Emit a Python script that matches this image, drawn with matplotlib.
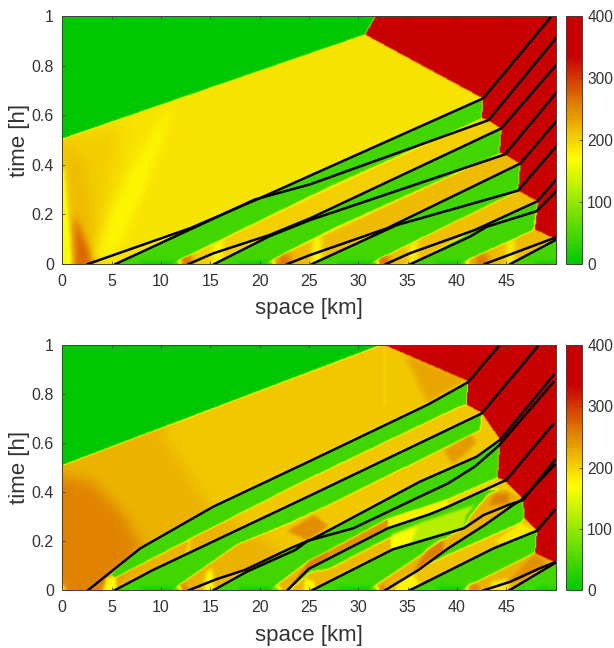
import numpy as np
import matplotlib
matplotlib.use("Agg")
import matplotlib.pyplot as plt
from matplotlib.colors import LinearSegmentedColormap, Normalize
from matplotlib.path import Path

plt.rcParams['font.family'] = ['Liberation Sans', 'DejaVu Sans']

# --- colour scale ---
cmap_vals = [0, 170, 257, 335, 400]
cmap_cols = ["#00c800", "#ffff00", "#e08000", "#c80000", "#c80000"]
vmax = 400

x_ticks = [0, 5, 10, 15, 20, 25, 30, 35, 40, 45]
t_ticks = [0, 0.2, 0.4, 0.6, 0.8, 1]
t_labels = ["0", "0.2", "0.4", "0.6", "0.8", "1"]
cb_ticks = [0, 100, 200, 300, 400]

# --- trajectories, top panel (km, h) ---
top_a = [(2.6, 0), (13, 0.145), (20, 0.265), (25.1, 0.356), (42.66, 0.668), (49.6, 1.0)]
top_b = [(5.4, 0), (13, 0.14), (19.5, 0.26), (25.1, 0.321), (43.2, 0.58), (50, 0.909)]
top_c = [(12.8, 0), (15.3, 0.043), (21, 0.117), (25.1, 0.184), (44.5, 0.547), (50, 0.80)]
top_d = [(15.4, 0), (21, 0.112), (25.1, 0.177), (44.86, 0.442), (50, 0.687)]
top_e = [(22.8, 0), (25.1, 0.036), (32.9, 0.144), (46.4, 0.405), (50, 0.573)]
top_f = [(25.3, 0), (33.9, 0.157), (46.2, 0.296), (50, 0.472)]
top_g = [(32.8, 0), (35.2, 0.043), (41.8, 0.137), (48.15, 0.253), (50, 0.338)]
top_h = [(35.3, 0), (41.3, 0.11), (43, 0.15), (48.06, 0.213), (50, 0.291)]
top_i = [(42.8, 0), (50, 0.107)]
top_j = [(45.4, 0), (50, 0.097)]
top_lines = [top_a, top_b, top_c, top_d, top_e, top_f, top_g, top_h, top_i, top_j]

# --- trajectories, bottom panel ---
bot_a = [(2.6, 0), (7.9, 0.171), (15.3, 0.341), (25.1, 0.527), (37.1, 0.758), (41.1, 0.848), (44.35, 1.0)]
bot_b = [(5.3, 0), (9.2, 0.083), (25.1, 0.386), (42.5, 0.721), (48.3, 1.0)]
bot_c = [(12.8, 0), (15.6, 0.045), (18.5, 0.083), (23.1, 0.171), (24.9, 0.202), (25.3, 0.208),
         (36.24, 0.443), (42, 0.545), (44.35, 0.613), (49.8, 0.878)]
bot_d = [(15.3, 0), (18.7, 0.076), (23.6, 0.164), (24.9, 0.202), (29.5, 0.253), (36.24, 0.382),
         (39.1, 0.436), (41.8, 0.504), (44.25, 0.59), (49.75, 0.848)]
bot_e = [(22.8, 0), (25, 0.088), (33, 0.253), (37.3, 0.311), (39.1, 0.341), (45, 0.45), (49.75, 0.677)]
bot_f = [(25.3, 0), (33.5, 0.167), (37.3, 0.212), (40.7, 0.253), (42.7, 0.307), (45.2, 0.348),
         (46.7, 0.368), (49.9, 0.531)]
bot_g = [(32.7, 0), (36.1, 0.083), (39.1, 0.171), (42.8, 0.266), (45.7, 0.348), (46.5, 0.368), (49.9, 0.511)]
bot_h = [(35.2, 0), (43.7, 0.171), (48.1, 0.243), (49.9, 0.327)]
bot_i = [(42.7, 0), (45.4, 0.035), (48.4, 0.09), (49.9, 0.114)]
bot_j = [(45.3, 0), (49.9, 0.11)]
bot_lines = [bot_a, bot_b, bot_c, bot_d, bot_e, bot_f, bot_g, bot_h, bot_i, bot_j]

# --- density regions: (polygon, density, softness), painted in order ---
free_top = [(0, 0.505), (30.7, 0.926), (31.9, 1.01), (0, 1.01)]
red_top = [(31.9, 1.01), (30.7, 0.926), (42.66, 0.668), (42.5, 0.59), (43.2, 0.58), (44.5, 0.546), (44.3, 0.45),
           (44.86, 0.442), (46.4, 0.405), (46.2, 0.296), (48.2, 0.254), (47.9, 0.14), (50.1, 0.1), (50.1, 1.01)]
top_layers = [
    ([(-1, -1), (51, -1), (51, 1.01), (-1, 1.01)], 190, 0),
    ([(-1, 0.5), (6, 0.56), (3, -0.1), (-1, -0.1)], 205, 9),
    ([(0.4, 0.5), (1.2, 0.1), (2.6, 0.05), (3, 0.2), (2, 0.4)], 218, 6),
    ([(1.2, -0.1), (3.6, -0.1), (2.8, 0.06), (1.2, 0.2)], 272, 3.5),
    ([(3.6, 0.03), (5, 0.22), (7, 0.38), (10.2, 0.6), (11.3, 0.655), (10.4, 0.52), (8.4, 0.3), (6.4, 0.12), (5, 0.02)], 176, 5),
    ([(-1, -0.1), (1.1, -0.1), (0.7, 0.15), (0.25, 0.38), (-1, 0.38)], 165, 2),
    ([(2.6, -0.1), (5.6, -0.1), (10, 0.1)], 180, 2),
    # fan stripes under the platoons
    ([(11, -0.1), (11, 0), (42.5, 0.587), (43.2, 0.58), (44.5, 0.547), (44.3, 0.446), (27.1, 0.137), (20.4, 0), (20.4, -0.1)], 203, 0),
    ([(11.2, -0.1), (14, -0.1), (13, 0.045), (12, 0.04)], 262, 3),
    ([(15, -0.1), (16.4, -0.1), (16, 0.22), (15.6, 0.22)], 168, 3),
    ([(20.4, -0.1), (20.4, 0), (44.3, 0.446), (44.86, 0.442), (46.4, 0.405), (46.2, 0.296), (31, 0), (31, -0.1)], 216, 0),
    ([(21.2, -0.1), (24, -0.1), (23, 0.045), (22, 0.04)], 262, 3),
    ([(25, -0.1), (26.4, -0.1), (26.2, 0.11), (25.5, 0.11)], 168, 3),
    ([(31, -0.1), (31, 0), (46.2, 0.296), (48.2, 0.254), (47.7, 0.137), (40.1, 0), (40.1, -0.1)], 213, 0),
    ([(31.2, -0.1), (34, -0.1), (33, 0.045), (32, 0.04)], 262, 3),
    ([(35, -0.1), (36, -0.1), (35.9, 0.1), (35.3, 0.1)], 168, 3),
    ([(40.1, -0.1), (40.1, 0), (47.7, 0.137), (47.9, 0.14), (50.1, 0.1), (45.2, 0), (45.2, -0.1)], 216, 0),
    ([(41.2, -0.1), (43.8, -0.1), (43, 0.045), (42, 0.04)], 262, 3),
    ([(44.9, -0.1), (45.8, -0.1), (45.7, 0.1), (45.1, 0.1)], 168, 3),
    # platoons
    ([(5.4, -0.1), (5.4, 0), (13, 0.145), (20, 0.265), (25.1, 0.356), (42.66, 0.668), (42.5, 0.587),
      (27.1, 0.312), (11, 0), (11, -0.1)], 45, 0),
    ([(15.4, -0.1), (15.4, 0), (21, 0.117), (25.1, 0.184), (44.5, 0.547), (44.3, 0.446), (27.1, 0.137),
      (20.4, 0), (20.4, -0.1)], 45, 0),
    ([(25.3, -0.1), (25.3, 0), (32.9, 0.144), (46.4, 0.405), (46.2, 0.296), (31, 0), (31, -0.1)], 45, 0),
    ([(35.4, -0.1), (35.4, 0), (41.8, 0.137), (48.15, 0.253), (47.7, 0.137), (40.1, 0), (40.1, -0.1)], 45, 0),
    ([(45.4, -0.1), (45.4, 0), (50.1, 0.1), (51, 0.1), (51, -0.1)], 45, 0),
    # darker green at the initial time
    ([(7, -0.1), (11, -0.1), (12, 0.012), (8, 0.012)], 15, 2),
    ([(17, -0.1), (20.4, -0.1), (21.4, 0.012), (18, 0.012)], 15, 2),
    ([(27, -0.1), (31, -0.1), (32, 0.012), (28, 0.012)], 15, 2),
    ([(37, -0.1), (40.1, -0.1), (41, 0.012), (38, 0.012)], 15, 2),
    ([(47, -0.1), (51, -0.1), (51, 0.012), (48, 0.012)], 15, 2),
    (free_top, 0, 0),
    (red_top, 400, 0),
]

free_bot = [(0, 0.507), (32.5, 1.0), (32.5, 1.01), (0, 1.01)]
red_bot = [(32.5, 1.01), (32.5, 1.0), (41.1, 0.851), (41, 0.755), (42.5, 0.721), (44.35, 0.613), (44.1, 0.457),
           (44.85, 0.446), (46.7, 0.368), (46.8, 0.293), (48.1, 0.243), (47.9, 0.151), (50.1, 0.11), (50.1, 1.01)]
bot_layers = [
    ([(-1, -1), (51, -1), (51, 1.01), (-1, 1.01)], 222, 0),
    ([(15, 0.34), (10, 0.65), (19, 1.01), (33, 1.01), (51, 0.8), (33, -0.1)], 207, 7),
    ([(-1, 0.47), (3, 0.44), (6, 0.32), (8.2, 0.17), (2.6, -0.1), (1.3, -0.1), (-1, 0.1)], 255, 7),
    ([(-1, -0.1), (1.3, -0.1), (-1, 0.13)], 165, 1.5),
    ([(34.6, 0.96), (41.1, 0.855), (37, 0.76), (35.6, 0.88)], 232, 3),
    ([(32.5, 1.0), (32.5, 0.75), (32.75, 0.75), (32.75, 1.0)], 200, 1),
    # stripes left of the junctions
    ([(3.6, -0.1), (5.6, -0.1), (5.5, 0.05), (4.5, 0.05)], 170, 1.5),
    ([(10.9, -0.1), (13, -0.1), (12.6, 0.03), (11.5, 0.02)], 255, 2),
    ([(14, -0.1), (15.6, -0.1), (15.2, 0.09), (14.6, 0.07)], 172, 1.5),
    ([(12.6, 0.12), (13, 0.12), (13, 0.24), (12.7, 0.24)], 198, 1),
    ([(22.8, 0.24), (25.5, 0.305), (27, 0.26), (24.9, 0.2)], 248, 1.5),
    ([(38.6, 0.565), (41.3, 0.64), (42, 0.6), (39.6, 0.51)], 240, 2),
    # platoons
    ([(4.8, 0.06), (7.9, 0.171), (15.3, 0.341), (25.1, 0.527), (37.1, 0.758), (41.1, 0.848), (41, 0.755), (40, 0.742),
      (24.08, 0.436), (21.6, 0.385), (12.8, 0.205), (5.4, 0.05)], 45, 0),
    ([(5.3, -0.1), (5.3, 0), (9.2, 0.083), (25.1, 0.386), (42.5, 0.721), (42.3, 0.65), (27.1, 0.348),
      (23, 0.273), (17.7, 0.185), (11.1, 0), (11.1, -0.1)], 45, 0),
    ([(15.3, -0.1), (15.3, 0), (18.7, 0.08), (24.9, 0.202), (36.24, 0.443), (42, 0.545), (44.35, 0.613),
      (44.1, 0.457), (39.1, 0.37), (33, 0.29), (27, 0.16), (25, 0.12), (21, 0), (21, -0.1)], 45, 0),
    # stripe above the third trajectory
    ([(21, -0.1), (21, 0), (22.8, 0), (25, 0.088), (27, 0.129), (27, 0.16), (25, 0.12)], 255, 0),
    ([(27, 0.129), (33, 0.253), (33, 0.29), (27, 0.16)], 245, 0.5),
    ([(33, 0.253), (39.1, 0.341), (39.1, 0.37), (33, 0.29)], 182, 0.5),
    ([(39.1, 0.341), (45, 0.45), (44.1, 0.457), (39.1, 0.37)], 200, 0.5),
    # between the third and fourth trajectories
    ([(22.8, -0.1), (22.8, 0), (25, 0.088), (33, 0.253), (39.1, 0.341), (45, 0.45), (44.85, 0.446), (46.7, 0.368),
      (45.2, 0.348), (42.7, 0.307), (40.7, 0.253), (37.3, 0.212), (33.5, 0.167), (25.3, 0), (25.3, -0.1)], 45, 0),
    ([(23, -0.1), (23, 0), (25.2, 0.075), (27, 0.085), (33.4, 0.219), (33.5, 0.167), (25.3, 0), (25.3, -0.1)], 218, 0.5),
    ([(24.2, -0.1), (25.6, -0.1), (25.6, 0.03), (24.6, 0.05)], 175, 1),
    # yellow-green lens
    ([(33.4, 0.167), (37.3, 0.212), (40.7, 0.253), (40.9, 0.3), (41.8, 0.348), (36.24, 0.273), (33.4, 0.219)], 122, 1),
    ([(33.4, 0.16), (35.2, 0.185), (36, 0.26), (33.4, 0.225)], 172, 1.5),
    # orange wedge at the merge
    ([(40.7, 0.253), (41.3, 0.3), (42.3, 0.35), (43.2, 0.39), (44.85, 0.42), (46.7, 0.368), (45.2, 0.348), (42.7, 0.307)], 225, 0.5),
    ([(43.2, 0.345), (45.2, 0.352), (45.2, 0.39), (43.8, 0.39)], 258, 1.5),
    ([(44.85, 0.446), (46.7, 0.368), (44.85, 0.409), (43, 0.41)], 205, 0.5),
    # between the fourth and fifth trajectories
    ([(25.3, -0.1), (25.3, 0), (33.5, 0.167), (37.3, 0.212), (40.7, 0.253), (38, 0.19), (36.6, 0.15), (31, 0), (31, -0.1)], 45, 0),
    ([(31, -0.1), (31, 0), (36.6, 0.15), (38, 0.19), (40.7, 0.253), (42.7, 0.307), (45.2, 0.348), (45.7, 0.348),
      (42.8, 0.266), (39.1, 0.171), (36.1, 0.083), (32.7, 0), (32.7, -0.1)], 222, 0.5),
    ([(35.5, 0.075), (37, 0.165), (38.6, 0.21), (38.6, 0.155), (36.5, 0.1)], 258, 1.2),
    ([(31.2, -0.1), (32.7, -0.1), (32.7, 0.02), (31.8, 0.02)], 250, 1),
    # between the fifth and sixth trajectories
    ([(32.7, -0.1), (32.7, 0), (36.1, 0.083), (39.1, 0.171), (42.8, 0.266), (46.5, 0.368), (46.7, 0.368), (46.8, 0.293),
      (48.1, 0.243), (43.7, 0.171), (35.2, 0), (35.2, -0.1)], 45, 0),
    ([(32.7, -0.1), (32.7, 0), (36.24, 0.09), (40, 0.16), (46.4, 0.273), (46.8, 0.293), (48.1, 0.243), (43.7, 0.171),
      (35.2, 0), (35.2, -0.1)], 212, 0.5),
    ([(33, -0.1), (35.2, -0.1), (36.2, 0.02), (35.5, 0.07), (34, 0.03)], 175, 1.5),
    ([(43.6, 0.19), (46.4, 0.273), (48.1, 0.243), (45.5, 0.195)], 185, 1),
    # under the sixth trajectory
    ([(35.2, -0.1), (35.2, 0), (43.7, 0.171), (48.1, 0.243), (47.9, 0.151), (40.3, 0), (40.3, -0.1)], 45, 0),
    ([(40.3, -0.1), (40.3, 0), (47.9, 0.151), (50.1, 0.11), (45.3, 0), (45.3, -0.1)], 222, 0.5),
    ([(40.8, -0.1), (42.6, -0.1), (42.2, 0.022), (41.2, 0.022)], 250, 1.5),
    ([(42.7, -0.1), (45.2, -0.1), (45.2, 0.045), (43.5, 0.035)], 182, 1.5),
    ([(45, 0.03), (47.9, 0.15), (49, 0.11), (46.5, 0.035)], 246, 1.5),
    ([(45.4, -0.1), (45.4, 0), (50.1, 0.11), (51, 0.11), (51, -0.1)], 45, 0),
    # darker green at the initial time
    ([(7, -0.1), (11, -0.1), (12, 0.012), (8, 0.012)], 15, 2),
    ([(17, -0.1), (21, -0.1), (22, 0.012), (18, 0.012)], 15, 2),
    ([(27, -0.1), (31, -0.1), (32, 0.012), (28, 0.012)], 15, 2),
    ([(37, -0.1), (40.3, -0.1), (41, 0.012), (38, 0.012)], 15, 2),
    ([(47, -0.1), (51, -0.1), (51, 0.012), (48, 0.012)], 15, 2),
    (free_bot, 0, 0),
    (red_bot, 400, 0),
]


def smooth(a, sig):
    r = int(3 * sig) + 1
    k = np.exp(-0.5 * (np.arange(-r, r + 1) / sig) ** 2)
    k = k / k.sum()
    a = np.pad(a, r, mode="edge")
    a = np.apply_along_axis(lambda v: np.convolve(v, k, mode="same"), 0, a)
    a = np.apply_along_axis(lambda v: np.convolve(v, k, mode="same"), 1, a)
    return a[r:-r, r:-r]


def paint(layers, nx=500, nt=250):
    xs = (np.arange(nx) + 0.5) / nx * 50
    ts = (np.arange(nt) + 0.5) / nt
    X, T = np.meshgrid(xs, ts)
    pts = np.column_stack([X.ravel(), T.ravel()])
    field = np.zeros_like(X)
    for poly, val, soft in layers:
        mask = Path(poly + [poly[0]]).contains_points(pts).reshape(X.shape).astype(float)
        if soft > 0:
            mask = smooth(mask, soft)
        field = field * (1 - mask) + val * mask
    return smooth(field, 0.6)


cmap = LinearSegmentedColormap.from_list("traffic", [(v / vmax, c) for v, c in zip(cmap_vals, cmap_cols)])
norm = Normalize(0, vmax)

W, H = 614, 648
fig = plt.figure(figsize=(W / 100, H / 100), dpi=100)


def panel(layers, lines, top_px, bot_px):
    ax = fig.add_axes([62.3 / W, 1 - bot_px / H, 493.4 / W, (bot_px - top_px) / H])
    im = ax.imshow(paint(layers), origin="lower", extent=[0, 50, 0, 1], aspect="auto",
                   cmap=cmap, norm=norm, interpolation="bilinear")
    for line in lines:
        xy = np.array(line)
        ax.plot(xy[:, 0], xy[:, 1], color="black", lw=1.8, solid_joinstyle="round")
    ax.set_xlim(0, 50)
    ax.set_ylim(0, 1)
    ax.set_xticks(x_ticks)
    ax.set_yticks(t_ticks)
    ax.set_yticklabels(t_labels)
    ax.tick_params(direction="in", length=2.5, width=0.6, top=True, right=True,
                   color="#404040", labelcolor="#333333", labelsize=11.5)
    ax.tick_params(axis="x", pad=7)
    ax.tick_params(axis="y", pad=6)
    for s in ax.spines.values():
        s.set_linewidth(0.7)
        s.set_color("#404040")
    ax.set_xlabel("space [km]", fontsize=16, color="#333333", labelpad=7)
    ax.set_ylabel("time [h]", fontsize=16, color="#333333", labelpad=1)
    cax = fig.add_axes([565.7 / W, 1 - bot_px / H, 16.6 / W, (bot_px - top_px) / H])
    cb = fig.colorbar(im, cax=cax)
    cb.set_ticks(cb_ticks)
    cb.ax.tick_params(direction="in", length=2, width=0.6, color="#404040", labelcolor="#333333",
                      labelsize=11.2, pad=3.5)
    cb.outline.set_linewidth(0.7)
    cb.outline.set_edgecolor("#404040")


panel(top_layers, top_lines, 16, 264)
panel(bot_layers, bot_lines, 345, 590.3)

fig.savefig("out.png", dpi=100)
